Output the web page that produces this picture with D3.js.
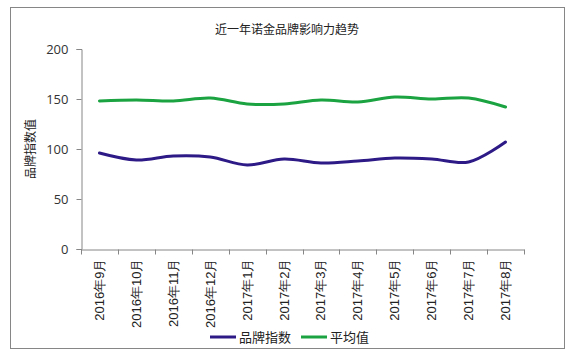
<!DOCTYPE html>
<html><head><meta charset="utf-8">
<script src="https://cdn.jsdelivr.net/npm/d3@7"></script>
<style>body{margin:0;background:#fff;} svg{display:block;font-family:"Noto Sans CJK SC","Microsoft YaHei",sans-serif;}</style>
</head><body>
<script>
const categories = ["2016年9月","2016年10月","2016年11月","2016年12月","2017年1月","2017年2月","2017年3月","2017年4月","2017年5月","2017年6月","2017年7月","2017年8月"];
const brandIndex = [96, 89, 93, 92, 84, 90, 86, 88, 91, 90, 87, 107];
const average = [148, 149, 148, 151, 145, 145, 149, 147, 152, 150, 151, 142];
const yTicks = [0, 50, 100, 150, 200];
const seriesNames = ["品牌指数", "平均值"];
const colors = ["#2e1a87", "#1aa340"];

const W = 572, H = 354;
const svg = d3.select("body").append("svg").attr("width", W).attr("height", H);
svg.append("rect").attr("x", 10.5).attr("y", 7.5).attr("width", 554).attr("height", 341)
  .attr("fill", "#fff").attr("stroke", "#868686").attr("stroke-width", 1);

const x0 = 81, x1 = 524, yTop = 49, yBot = 249;
const x = d3.scaleBand().domain(categories).range([x0, x1]);
const y = d3.scaleLinear().domain([0, 200]).range([yBot, yTop]);

svg.append("text").attr("x", 287).attr("y", 34).attr("text-anchor", "middle")
  .attr("font-size", 12).attr("fill", "#222").text("近一年诺金品牌影响力趋势");

// y axis
const yAxis = svg.append("g").attr("transform", `translate(${x0 + 0.5},0)`)
  .call(d3.axisLeft(y).tickValues(yTicks).tickSize(5).tickPadding(8));
yAxis.select(".domain").attr("stroke", "#868686");
yAxis.selectAll(".tick line").attr("stroke", "#868686");
yAxis.selectAll("text").attr("font-size", 13).attr("fill", "#333").attr("font-family", "Open Sans, sans-serif");

// x axis
const xAxis = svg.append("g").attr("transform", `translate(0,${yBot + 0.5})`)
  .call(d3.axisBottom(x).tickSize(0).tickPadding(0));
xAxis.select(".domain").attr("stroke", "#868686");
xAxis.selectAll(".tick text").remove();
const bounds = d3.range(categories.length + 1).map(i => x0 + i * x.step());
xAxis.selectAll(".bt").data(bounds).enter().append("line")
  .attr("x1", d => Math.round(d) + 0.5).attr("x2", d => Math.round(d) + 0.5)
  .attr("y1", 0).attr("y2", 5).attr("stroke", "#868686");
xAxis.selectAll(".lbl").data(categories).enter().append("text")
  .attr("transform", d => `translate(${x(d) + x.bandwidth() / 2 + 4.5},9) rotate(-90)`)
  .attr("text-anchor", "end").attr("font-size", 13).attr("fill", "#222")
  .text(d => d);

// y title
svg.append("text").attr("transform", "translate(35,149) rotate(-90)")
  .attr("text-anchor", "middle").attr("font-size", 12).attr("fill", "#222").text("品牌指数值");

const line = d3.line().x((d, i) => x(categories[i]) + x.bandwidth() / 2).y(d => y(d))
  .curve(d3.curveCatmullRom.alpha(0.5));
[brandIndex, average].forEach((s, k) => {
  svg.append("path").datum(s).attr("d", line).attr("fill", "none")
    .attr("stroke", colors[k]).attr("stroke-width", 3).attr("stroke-linecap", "round");
});

// legend
const lg = [{x: 210, name: seriesNames[0], c: colors[0]}, {x: 301, name: seriesNames[1], c: colors[1]}];
lg.forEach(d => {
  svg.append("line").attr("x1", d.x).attr("x2", d.x + 26).attr("y1", 337).attr("y2", 337)
    .attr("stroke", d.c).attr("stroke-width", 3);
  svg.append("text").attr("x", d.x + 29).attr("y", 342).attr("font-size", 13).attr("fill", "#222").text(d.name);
});
</script>
</body></html>
